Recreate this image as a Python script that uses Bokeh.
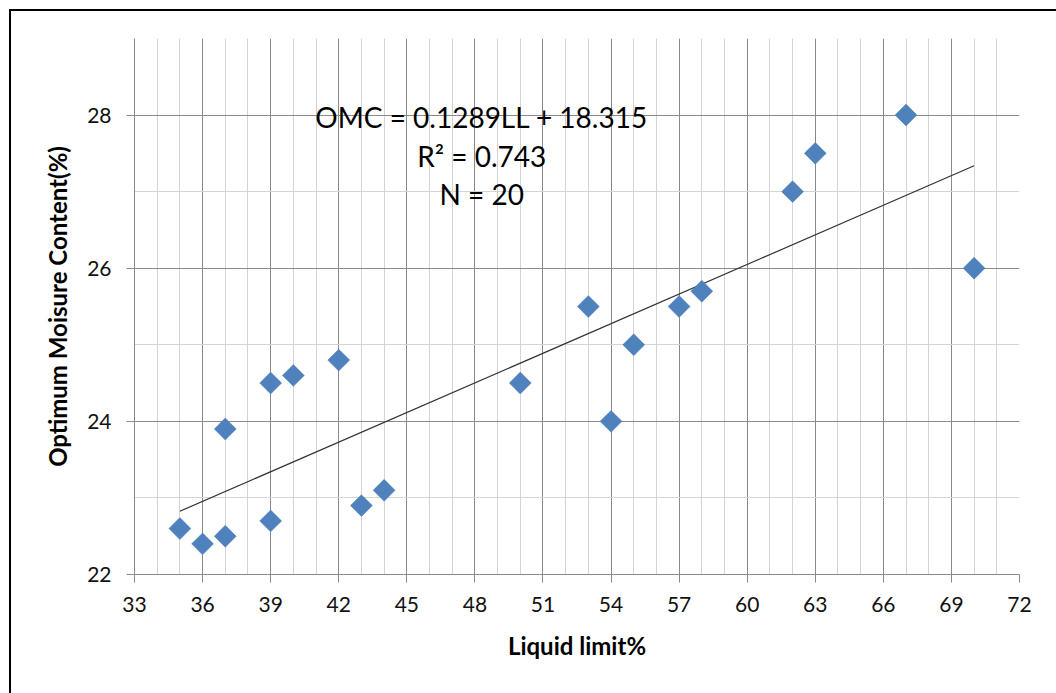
import numpy as np
from bokeh.plotting import figure
from bokeh.models import SingleIntervalTicker, Label
from bokeh.embed import file_html
from bokeh.resources import INLINE

# ---- data ----
liquid_limit = [35, 36, 37, 37, 39, 39, 40, 42, 43, 44, 50, 53, 54, 55, 57, 58, 62, 63, 67, 70]
omc = [22.6, 22.4, 22.5, 23.9, 22.7, 24.5, 24.6, 24.8, 22.9, 23.1, 24.5, 25.5, 24.0, 25.0, 25.5, 25.7, 27.0, 27.5, 28.0, 26.0]
slope = 0.1289
intercept = 18.315
eq_lines = ["OMC = 0.1289LL + 18.315", "R\u00b2 = 0.743", "N = 20"]
x_label = "Liquid limit%"
y_label = "Optimum Moisure Content(%)"

FONT = "Lato"
MAJOR = "#8a8a8a"
MINOR = "#d4d4d4"

p = figure(width=1045, height=682, x_range=(33, 72), y_range=(22, 29),
           output_backend="svg", toolbar_location=None,
           min_border_left=123, min_border_right=37, min_border_top=27, min_border_bottom=119)
p.margin = (11, 0, 0, 11)
p.styles = {"outline": "2px solid #000000"}
p.outline_line_color = None
p.background_fill_color = "white"
p.border_fill_color = "white"

p.xaxis.ticker = SingleIntervalTicker(interval=3, num_minor_ticks=3)
p.yaxis.ticker = SingleIntervalTicker(interval=2, num_minor_ticks=2)

for ax in (p.xaxis[0], p.yaxis[0]):
    ax.axis_line_color = MAJOR
    ax.axis_line_width = 1
    ax.major_tick_line_color = MAJOR
    ax.major_tick_in = 0
    ax.major_tick_out = 8
    ax.minor_tick_in = 0
    ax.minor_tick_out = 0
    ax.major_label_text_font = FONT
    ax.major_label_text_font_size = "21px"
    ax.major_label_text_color = "#111111"
    ax.axis_label_text_font = FONT
    ax.axis_label_text_font_size = "24px"
    ax.axis_label_text_font_style = "bold"
    ax.axis_label_text_color = "#000000"

p.xaxis.major_label_standoff = 14
p.yaxis.major_label_standoff = 15
p.xaxis.axis_label = x_label
p.yaxis.axis_label = y_label
p.xaxis.axis_label_standoff = 16
p.yaxis.axis_label_standoff = 12

for g in (p.xgrid[0], p.ygrid[0]):
    g.grid_line_color = MAJOR
    g.grid_line_width = 1
    g.minor_grid_line_color = MINOR
    g.minor_grid_line_width = 1

# trend line over the data range
xs = np.array([min(liquid_limit), max(liquid_limit)], dtype=float)
p.line(xs, slope * xs + intercept, line_color="#333333", line_width=1.2)

# data markers (diamonds)
p.scatter(liquid_limit, omc, marker="square", angle=np.pi / 4, size=15.5,
          fill_color="#4F81BD", line_color="#4F81BD", line_width=0.5)

# equation text
for i, t in enumerate(eq_lines):
    p.add_layout(Label(x=48.3, y=27.97 - 0.5 * i, text=t, text_align="center",
                       text_baseline="middle", text_font=FONT, text_font_size="28px",
                       text_color="#000000"))

open("out.html", "w").write(file_html(p, INLINE))
